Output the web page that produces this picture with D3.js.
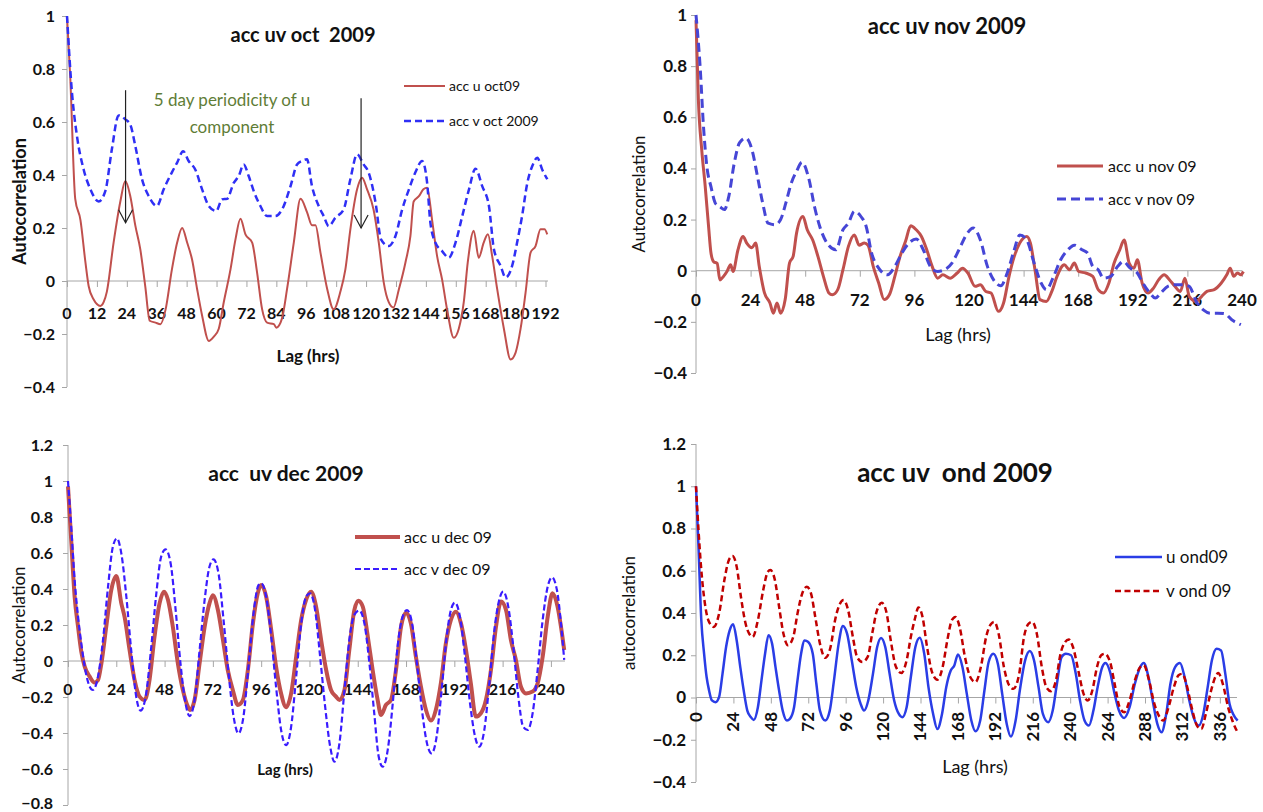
<!DOCTYPE html>
<html><head><meta charset="utf-8">
<script src="https://cdn.jsdelivr.net/npm/d3@7"></script>
<style>body{margin:0;background:#fff} text{font-family:Lato,"Open Sans",sans-serif}</style>
</head><body><svg id="c" width="1263" height="812"></svg>
<script>
// ---------- DATA ([lag hrs, autocorrelation]) ----------
const octU = [[0,1],[1.3,0.77],[3.3,0.31],[5.4,0.23],[7.4,0.07],[8.7,-0.02],[10.7,-0.07],[13.4,-0.094],[14.7,-0.08],[16,-0.04],[18.7,0.145],[21.4,0.30],[23.4,0.377],[25.4,0.32],[27.4,0.21],[29.4,0.12],[31.4,-0.02],[33.2,-0.15],[35.5,-0.157],[37.5,-0.163],[39.5,-0.11],[42.1,0.044],[44.2,0.145],[46.2,0.20],[48.2,0.145],[50.2,0.08],[52.2,-0.03],[54.2,-0.13],[56.9,-0.226],[58.9,-0.21],[60.9,-0.18],[62.9,-0.08],[65.6,0.044],[67.6,0.157],[69.6,0.235],[71.6,0.176],[74.3,0.145],[76.3,0.03],[78.3,-0.107],[80.3,-0.157],[83,-0.163],[84,-0.176],[86.3,-0.14],[88.3,-0.03],[91,0.145],[93.7,0.31],[96.3,0.26],[98.3,0.21],[99.7,0.21],[101.7,0.107],[104.4,-0.03],[107,-0.107],[109.7,-0.04],[111.7,0.044],[113.7,0.195],[116.4,0.346],[118.4,0.39],[120.4,0.346],[123,0.27],[125.1,0.145],[127.1,-0.006],[129.1,-0.08],[131,-0.1],[133.2,-0.03],[135.8,0.07],[137.8,0.17],[139.1,0.30],[141.2,0.32],[143,0.346],[144.5,0.352],[146.5,0.23],[148.5,0.094],[150.5,0.006],[152.5,-0.107],[155.2,-0.214],[157.2,-0.18],[159.2,-0.08],[160.8,0.07],[163.2,0.19],[165.2,0.088],[167.2,0.145],[168.9,0.176],[170.6,0.094],[172.6,-0.03],[175.3,-0.18],[178,-0.296],[180,-0.27],[182,-0.18],[184,-0.044],[186,0.107],[188,0.132],[190,0.195],[191.6,0.195],[192.7,0.176]];
const octV = [[0,1],[2,0.71],[4,0.547],[6.7,0.42],[9.4,0.346],[12.7,0.30],[15.4,0.34],[18,0.497],[20.7,0.625],[23.4,0.61],[25.4,0.59],[27.4,0.51],[30.1,0.384],[32.8,0.32],[36.1,0.283],[38.8,0.346],[42.1,0.41],[44.2,0.447],[46.6,0.49],[48.8,0.453],[51.5,0.42],[54.2,0.346],[56.9,0.283],[59.9,0.264],[62.2,0.308],[64.2,0.31],[66.9,0.37],[68.9,0.396],[70.9,0.44],[72.9,0.396],[74.9,0.34],[77.6,0.283],[80.3,0.245],[83.6,0.245],[86.3,0.27],[89.7,0.358],[92.3,0.44],[94.3,0.453],[96.3,0.459],[98.3,0.358],[101,0.283],[103,0.245],[105,0.207],[107.7,0.239],[111,0.27],[113.7,0.384],[116.4,0.478],[119,0.44],[121,0.41],[123.8,0.296],[126,0.157],[129,0.132],[131.8,0.17],[134.5,0.27],[137.2,0.346],[139.8,0.41],[142.5,0.453],[144.5,0.37],[145.8,0.22],[147.8,0.145],[150.5,0.113],[153.2,0.088],[155.9,0.145],[158.6,0.245],[161.3,0.346],[163.9,0.424],[166.6,0.358],[169.3,0.283],[171.3,0.12],[174,0.057],[176,0.013],[178.6,0.057],[180.6,0.145],[182.6,0.245],[184.7,0.37],[186.7,0.434],[188.7,0.465],[190.7,0.42],[192.7,0.384]];
const novU = [[0,0.98],[1.05,0.667],[2.55,0.47],[4.05,0.33],[5.55,0.17],[6.6,0.068],[7.8,0.035],[9.3,0.029],[10.5,-0.036],[12.1,-0.022],[13.6,-0.003],[15.2,0.023],[16.3,-0.003],[18.4,0.08],[20.7,0.134],[22.3,0.108],[24.6,0.09],[26.2,0.108],[27.8,0.017],[30.1,-0.087],[32.5,-0.126],[34,-0.166],[35.6,-0.126],[37.2,-0.166],[39.2,-0.113],[41.1,0.03],[42.7,0.056],[44.2,0.147],[47,0.212],[48.9,0.16],[51.3,0.12],[53.6,0.056],[56,-0.022],[58.4,-0.087],[59.9,-0.094],[62.3,-0.074],[64.6,0.004],[67,0.095],[69.6,0.14],[71.7,0.1],[74,0.108],[75.6,0.1],[77.9,0.017],[80.3,-0.048],[82.7,-0.113],[85,-0.094],[87.4,-0.022],[89.7,0.056],[92.1,0.115],[94.4,0.176],[96.8,0.16],[99.1,0.134],[101.5,0.08],[103.8,0.017],[106.2,-0.029],[108.5,-0.016],[111.7,-0.029],[114.8,-0.009],[117.2,0.01],[119.5,-0.009],[122.7,-0.061],[125,-0.055],[127.4,-0.081],[129.7,-0.087],[132.9,-0.159],[135.2,-0.126],[137.6,-0.022],[139.9,0.056],[142.3,0.108],[145.4,0.134],[147,0.108],[149,0.004],[151.2,-0.113],[154,-0.12],[156.4,-0.081],[158.7,-0.022],[161.9,0.023],[164.2,0.004],[166.3,0.03],[168.2,-0.003],[171.3,-0.009],[174.4,-0.022],[176.8,-0.074],[179.1,-0.087],[181.5,-0.048],[183.8,0.03],[186.2,0.08],[188.2,0.12],[190.4,0.03],[192.5,0.01],[194,0.043],[196.1,-0.048],[198.7,-0.087],[201.1,-0.068],[203.4,-0.035],[205.8,-0.016],[208.1,-0.035],[210.5,-0.061],[212.9,-0.081],[214.9,-0.029],[216.8,-0.1],[219.9,-0.12],[222.3,-0.1],[224.6,-0.081],[227.8,-0.074],[230.9,-0.048],[233.3,-0.016],[234.8,0.01],[236.4,-0.022],[238,-0.009],[239.5,-0.016],[240.6,-0.003]];
const novV = [[0,1],[1.8,0.8],[3.3,0.563],[4.8,0.406],[6.6,0.328],[8.55,0.263],[10.5,0.25],[12.5,0.239],[14.4,0.29],[16.8,0.42],[19.1,0.5],[21.9,0.519],[24.6,0.473],[27,0.37],[29.3,0.265],[31.7,0.186],[34.8,0.18],[37.2,0.2],[39.5,0.265],[41.9,0.343],[44.2,0.389],[46.6,0.424],[49.7,0.356],[52.1,0.25],[54.4,0.173],[57.6,0.108],[61.5,0.082],[64.6,0.16],[67,0.186],[69.6,0.232],[72.5,0.212],[74.8,0.173],[77.2,0.069],[80.3,0.01],[84.2,-0.016],[87.4,0.017],[90.5,0.069],[93.6,0.108],[96.8,0.124],[99.9,0.082],[103,0.017],[106.2,-0.003],[109.3,0.004],[112.5,0.03],[115.6,0.082],[118.8,0.14],[121.9,0.167],[125,0.12],[128.1,0.017],[131.3,-0.042],[134,-0.059],[136.8,-0.009],[139.9,0.082],[142.3,0.14],[145.4,0.12],[148.6,0.03],[151.7,-0.048],[154,-0.074],[157.2,-0.022],[160.3,0.043],[163.5,0.082],[166.3,0.1],[169.7,0.082],[172.1,0.069],[174.4,0.017],[176.8,0.004],[179.1,-0.029],[182.3,-0.022],[185.4,0.017],[187.8,0.036],[190.9,0.01],[194,-0.009],[196.4,-0.048],[199.5,-0.087],[201.9,-0.107],[204.3,-0.087],[207.4,-0.061],[210.5,-0.055],[213.6,-0.055],[216.8,-0.061],[219.9,-0.12],[223,-0.153],[226.1,-0.166],[229.3,-0.166],[232.4,-0.168],[235.5,-0.192],[239.5,-0.211]];
const decU = [[0,0.97],[1.7,0.65],[3.3,0.357],[5,0.19],[6.6,0.052],[8.3,-0.031],[10.8,-0.087],[13.2,-0.12],[14.9,-0.106],[16.6,-0.013],[19,0.19],[21.5,0.394],[24,0.472],[26.5,0.32],[28.1,0.246],[30.6,0.061],[33.1,-0.106],[35.6,-0.198],[38.1,-0.217],[40.5,-0.106],[43,0.135],[45.5,0.32],[47.7,0.385],[49.7,0.339],[52.1,0.19],[54.6,-0.013],[57.1,-0.161],[59.6,-0.254],[60.7,-0.272],[62.9,-0.217],[65.4,-0.013],[67.9,0.19],[70.3,0.32],[72,0.365],[74.5,0.283],[77,0.117],[79.4,-0.05],[81.9,-0.161],[84.4,-0.244],[86.9,-0.217],[89.4,-0.05],[91.9,0.209],[94.3,0.376],[96,0.422],[98.5,0.357],[101,0.172],[103.4,-0.031],[105.9,-0.18],[108.4,-0.257],[110.9,-0.18],[113.4,0.024],[115.9,0.228],[118.3,0.339],[120.8,0.385],[123.3,0.302],[125.8,0.117],[128.3,-0.05],[130.7,-0.161],[133.2,-0.198],[134.9,-0.217],[137.4,-0.161],[139.8,0.061],[142.3,0.283],[144.3,0.335],[146.5,0.302],[149,0.135],[151.4,-0.05],[153.9,-0.217],[155.6,-0.3],[158,-0.244],[160.5,-0.217],[163,-0.05],[165.5,0.19],[168,0.268],[170.4,0.209],[172.9,0.024],[175.4,-0.143],[177.9,-0.272],[180.4,-0.331],[182.8,-0.272],[185.3,-0.124],[187.8,0.098],[190.3,0.228],[192.8,0.274],[195.3,0.209],[197.8,0.061],[200.2,-0.124],[202.7,-0.309],[205.2,-0.29],[207.7,-0.217],[210.2,-0.05],[212.7,0.19],[215.2,0.33],[217.7,0.283],[220.1,0.117],[222.6,0.006],[225.1,-0.143],[227.6,-0.18],[230.9,-0.17],[233.4,-0.124],[235.9,0.024],[238.4,0.246],[240.8,0.376],[243.3,0.302],[245,0.19],[246.6,0.061]];
const decV = [[0,1],[1.7,0.728],[3.3,0.45],[5,0.246],[6.6,0.098],[8.3,-0.031],[10.8,-0.143],[12.4,-0.161],[14.9,-0.087],[17.4,0.117],[19.9,0.413],[22.3,0.635],[24.3,0.681],[26.5,0.598],[29,0.357],[31.4,0.061],[33.9,-0.198],[36.1,-0.276],[38.6,-0.198],[41.4,0.08],[43.9,0.376],[46.3,0.58],[48.5,0.62],[51,0.543],[53.5,0.283],[55.9,-0.013],[58.4,-0.235],[60.4,-0.306],[62.9,-0.217],[65.4,0.061],[67.9,0.339],[70.3,0.524],[72.3,0.565],[74.8,0.487],[77.3,0.228],[79.8,-0.069],[82.3,-0.309],[84.7,-0.402],[87.2,-0.309],[89.7,-0.031],[92.2,0.265],[94.7,0.422],[96,0.431],[98.5,0.357],[101,0.135],[103.4,-0.143],[105.9,-0.383],[108.4,-0.467],[110.9,-0.365],[113.4,-0.087],[115.9,0.209],[118.3,0.357],[120.3,0.376],[122.8,0.283],[125.3,0.024],[127.8,-0.254],[130.3,-0.476],[132.4,-0.559],[134.9,-0.457],[137.4,-0.161],[139.8,0.117],[142.3,0.256],[144.8,0.28],[147.3,0.209],[149.8,-0.013],[152.2,-0.291],[154.4,-0.531],[156.4,-0.587],[158.9,-0.494],[161.4,-0.235],[163.8,0.08],[166.3,0.246],[168.5,0.283],[171,0.209],[173.4,-0.013],[175.9,-0.272],[178.4,-0.457],[180.7,-0.513],[183.2,-0.42],[185.7,-0.161],[188.2,0.135],[190.3,0.283],[192.3,0.324],[194.8,0.246],[197.3,0.024],[199.8,-0.235],[202.3,-0.42],[204.4,-0.476],[206.9,-0.383],[209.4,-0.124],[211.9,0.172],[214.3,0.339],[216.3,0.385],[218.8,0.302],[221.3,0.08],[223.8,-0.198],[226.2,-0.365],[228.4,-0.383],[230.9,-0.291],[233.4,-0.05],[235.9,0.228],[238.4,0.413],[240.5,0.465],[243,0.394],[245,0.209],[246.6,0.006]];
const ondU = [[0,1],[1.6,0.714],[3.4,0.366],[5.2,0.207],[6.8,0.097],[8.4,0.033],[10.2,-0.014],[12.5,-0.022],[14.8,0.002],[17,0.112],[19.3,0.239],[21.6,0.318],[23.8,0.347],[26.1,0.27],[28.4,0.144],[30.6,0.033],[32.9,-0.062],[35.2,-0.093],[37,-0.106],[39.7,-0.046],[42,0.081],[44.3,0.207],[46.5,0.295],[48.8,0.255],[51,0.144],[53.3,0.033],[55.6,-0.062],[58.3,-0.109],[60.2,-0.101],[62.9,-0.046],[65.1,0.081],[67.4,0.207],[69.7,0.27],[72,0.263],[74.9,0.207],[77.2,0.065],[79.5,-0.062],[82.9,-0.109],[85.8,-0.062],[88.5,0.081],[91.5,0.255],[94.2,0.339],[96.9,0.302],[99.9,0.176],[102.8,0.049],[105.6,-0.03],[107.8,-0.062],[110.5,-0.014],[113.5,0.112],[116.2,0.239],[118.7,0.282],[121.4,0.239],[124.2,0.112],[127.1,-0.014],[130.1,-0.078],[132.3,-0.093],[135.1,-0.046],[137.8,0.097],[140.7,0.239],[143.5,0.283],[146.4,0.207],[149.1,0.049],[152.1,-0.078],[154.8,-0.149],[157.8,-0.078],[160.5,0.049],[163.4,0.128],[165.7,0.152],[168,0.204],[170.9,0.144],[173.7,0.017],[176.6,-0.109],[179.3,-0.16],[182.3,-0.109],[185,0.033],[187.7,0.168],[190.7,0.207],[193.6,0.16],[196.4,0.017],[199.3,-0.125],[202,-0.185],[205,-0.109],[207.7,0.033],[211.1,0.176],[214.1,0.22],[216.8,0.176],[219.7,0.049],[222.5,-0.078],[225.9,-0.117],[228.8,-0.062],[231.5,0.065],[234.5,0.192],[237.2,0.207],[240.6,0.2],[243.6,0.112],[246.3,-0.014],[249.2,-0.109],[252,-0.133],[254.9,-0.062],[257.6,0.049],[260.6,0.144],[262.6,0.163],[265.6,0.12],[268.5,0.017],[271.3,-0.062],[274.7,-0.097],[278.1,-0.046],[281.5,0.065],[284.9,0.144],[287.2,0.163],[290.2,0.097],[292.9,-0.014],[295.9,-0.125],[298.6,-0.165],[301.6,-0.078],[304.3,0.065],[307.3,0.144],[310.4,0.163],[313.4,0.097],[316.4,-0.014],[319.1,-0.093],[322.5,-0.133],[325.4,-0.078],[328.2,0.049],[330.9,0.176],[333.9,0.231],[336.8,0.223],[339.5,0.112],[342.2,-0.03],[344.5,-0.078],[347.4,-0.109]];
const ondV = [[0,1],[1.6,0.793],[3.4,0.603],[5.7,0.445],[7.9,0.366],[11.4,0.334],[14.8,0.397],[18.2,0.556],[21.1,0.651],[23.4,0.67],[26.1,0.619],[28.8,0.477],[31.8,0.35],[34.1,0.302],[36.3,0.287],[39.7,0.366],[43.1,0.508],[46.1,0.595],[47.7,0.603],[50.6,0.556],[53.3,0.429],[56.1,0.302],[59,0.247],[62.4,0.287],[65.1,0.397],[68.1,0.492],[71.1,0.524],[73.8,0.492],[76.5,0.381],[79.5,0.255],[82.9,0.188],[86.3,0.239],[89.2,0.366],[91.9,0.437],[94.7,0.461],[97.6,0.413],[100.6,0.287],[103.3,0.192],[106.7,0.168],[110.1,0.192],[113,0.302],[115.8,0.405],[119.2,0.448],[122.1,0.405],[124.9,0.271],[128.3,0.144],[131.7,0.116],[135.1,0.176],[137.8,0.287],[140.7,0.381],[142.6,0.426],[145.3,0.381],[148.2,0.239],[151.4,0.12],[154.8,0.084],[158.2,0.144],[161.2,0.271],[164.1,0.366],[166.4,0.381],[169.1,0.334],[172.5,0.192],[175.9,0.097],[179.3,0.073],[182.7,0.144],[186.1,0.287],[189.1,0.347],[191.4,0.358],[194.1,0.302],[197.5,0.144],[200.9,0.057],[203.6,0.041],[207.3,0.112],[210.4,0.287],[213.4,0.35],[215.7,0.358],[218.6,0.302],[221.8,0.144],[224.7,0.049],[227.7,0.03],[230.9,0.081],[233.8,0.207],[236.8,0.263],[239.1,0.274],[241.8,0.239],[245.2,0.128],[248.6,0.017],[251.3,-0.014],[254.2,0.033],[257.2,0.144],[259.9,0.2],[262.2,0.207],[265.6,0.168],[268.5,0.065],[271.7,-0.046],[274.7,-0.07],[278.1,-0.014],[281.5,0.081],[284.9,0.144],[287.2,0.152],[290.6,0.081],[294,-0.03],[297.4,-0.093],[299.7,-0.109],[303.1,-0.046],[306.5,0.049],[309.5,0.105],[311.8,0.112],[314.5,0.065],[317.9,-0.046],[321.3,-0.133],[324.1,-0.149],[327,-0.078],[330.4,0.033],[333.1,0.097],[334.9,0.116],[337.9,0.065],[341.3,-0.046],[344,-0.109],[347.4,-0.165]];

const octXTicks = [0,12,24,36,48,60,72,84,96,108,120,132,144,156,168,180,192];
const nov24Ticks = [0,24,48,72,96,120,144,168,192,216,240];
const decXTicks = [0,24,48,72,96,120,144,168,192,216,240];
const ondXTicks = [0,24,48,72,96,120,144,168,192,216,240,264,288,312,336];
const yTicksA = [-0.4,-0.2,0,0.2,0.4,0.6,0.8,1];
const yTicksDec = [-0.8,-0.6,-0.4,-0.2,0,0.2,0.4,0.6,0.8,1,1.2];
const yTicksOnd = [-0.4,-0.2,0,0.2,0.4,0.6,0.8,1,1.2];

// ---------- DRAW ----------
const svg = d3.select("#c");
const AX = "#a6a6a6";

const panels = [
 {title:"acc uv oct  2009", tx:303, ty:35, tsize:20,
  xd:[0,193], xr:[67,548], yd:[-0.4,1], yr:[387,16], xt:octXTicks, yt:yTicksA,
  xlabY:313, xlabSize:16, rotX:false, ylabRight:55, ylabSize:16,
  yTitle:"Autocorrelation", yTitleX:20, yTitleBold:true, yTitleSize:18,
  lag:{x:308,y:356,size:17,bold:true},
  leg:{x1:404,x2:445,tx:449,ys:[86,121],size:14},
  series:[{d:octU,name:"acc u oct09",c:"#c0504d",w:2,dash:null},
          {d:octV,name:"acc v oct 2009",c:"#2f2ff5",w:2.5,dash:"7,4"}]},
 {title:"acc uv nov 2009", tx:947, ty:26, tsize:22,
  xd:[0,240], xr:[696,1242], yd:[-0.4,1], yr:[373,15], xt:nov24Ticks, yt:yTicksA,
  xlabY:300, xlabSize:17, rotX:false, ylabRight:687, ylabSize:17,
  yTitle:"Autocorrelation", yTitleX:639, yTitleBold:false, yTitleSize:17,
  lag:{x:958,y:335,size:18,bold:false},
  leg:{x1:1057,x2:1103,tx:1108,ys:[166,199],size:16},
  series:[{d:novU,name:"acc u nov 09",c:"#c0504d",w:3,dash:null},
          {d:novV,name:"acc v nov 09",c:"#4646d6",w:3,dash:"9,5"}]},
 {title:"acc  uv dec 2009", tx:286, ty:474, tsize:21,
  xd:[0,247], xr:[68,565], yd:[-0.8,1.2], yr:[805,445], xt:decXTicks, yt:yTicksDec,
  xlabY:689, xlabSize:16, rotX:false, ylabRight:53, ylabSize:16,
  yTitle:"Autocorrelation", yTitleX:19, yTitleBold:false, yTitleSize:17,
  lag:{x:285,y:770,size:15,bold:true},
  leg:{x1:355,x2:400,tx:404,ys:[537,569],size:16},
  series:[{d:decU,name:"acc u dec 09",c:"#c0504d",w:4,dash:null},
          {d:decV,name:"acc v dec 09",c:"#3a1cff",w:2.2,dash:"6,3"}]},
 {title:"acc uv  ond 2009", tx:955, ty:473, tsize:26,
  xd:[0,347], xr:[696,1237], yd:[-0.4,1.2], yr:[782,444], xt:ondXTicks, yt:yTicksOnd,
  xlabY:712, xlabSize:17, rotX:true, ylabRight:686, ylabSize:17,
  yTitle:"autocorrelation", yTitleX:629, yTitleBold:false, yTitleSize:17,
  lag:{x:975,y:767,size:18,bold:false},
  leg:{x1:1115,x2:1162,tx:1166,ys:[557,591],size:17},
  series:[{d:ondU,name:"u ond09",c:"#2a3de6",w:2.5,dash:null},
          {d:ondV,name:"v ond 09",c:"#c00000",w:2.5,dash:"6,3.5"}]}
];

panels.forEach(p => {
  const g = svg.append("g");
  const x = d3.scaleLinear().domain(p.xd).range(p.xr);
  const y = d3.scaleLinear().domain(p.yd).range(p.yr);
  const y0 = y(0);

  // y axis
  const ya = d3.axisLeft(y).tickValues(p.yt).tickSize(5).tickFormat("");
  const yg = g.append("g").attr("transform",`translate(${p.xr[0]},0)`).call(ya);
  yg.select(".domain").attr("stroke",AX).attr("d",`M0,${p.yr[0]}V${p.yr[1]}`);
  yg.selectAll(".tick line").attr("stroke",AX);
  g.selectAll(".ytl").data(p.yt).enter().append("text")
    .attr("x",p.ylabRight).attr("y",d=>Math.min(y(d), 812 - p.ylabSize*0.5 - 1)).attr("dy","0.35em")
    .attr("text-anchor","end").attr("font-weight","bold").attr("font-size",p.ylabSize)
    .attr("fill","#111").text(d=>d3.format("")(+d.toFixed(1)));

  // x axis along zero
  const xa = d3.axisBottom(x).tickValues(p.xt).tickSize(6).tickFormat("");
  const xg = g.append("g").attr("transform",`translate(0,${y0})`).call(xa);
  xg.select(".domain").attr("stroke",AX).attr("d",`M${p.xr[0]},0H${p.xr[1]}`);
  xg.selectAll(".tick line").attr("stroke",AX);
  const xl = g.selectAll(".xtl").data(p.xt).enter().append("text")
    .attr("font-weight","bold").attr("font-size",p.xlabSize).attr("fill","#111").text(d=>d);
  if (p.rotX) {
    xl.attr("transform",d=>`translate(${x(d)},${p.xlabY}) rotate(-90)`)
      .attr("text-anchor","end").attr("dy","0.35em");
  } else {
    xl.attr("x",d=>x(d)).attr("y",p.xlabY).attr("dy","0.35em").attr("text-anchor","middle");
  }

  // titles
  g.append("text").attr("x",p.tx).attr("y",p.ty).attr("dy","0.35em").attr("text-anchor","middle")
    .attr("font-weight","bold").attr("font-size",p.tsize).attr("fill","#111")
    .style("white-space","pre").text(p.title);
  g.append("text").attr("transform",`translate(${p.yTitleX},${(p.yr[0]+p.yr[1])/2}) rotate(-90)`)
    .attr("text-anchor","middle").attr("dy","0.35em")
    .attr("font-weight",p.yTitleBold?"bold":"normal").attr("font-size",p.yTitleSize).attr("fill","#111")
    .text(p.yTitle);
  g.append("text").attr("x",p.lag.x).attr("y",p.lag.y).attr("dy","0.35em").attr("text-anchor","middle")
    .attr("font-weight",p.lag.bold?"bold":"normal").attr("font-size",p.lag.size).attr("fill","#111")
    .text("Lag (hrs)");

  // series
  const line = d3.line().x(d=>x(d[0])).y(d=>y(d[1])).curve(d3.curveMonotoneX);
  p.series.forEach((s,i) => {
    g.append("path").datum(s.d).attr("d",line).attr("fill","none")
      .attr("stroke",s.c).attr("stroke-width",s.w).attr("stroke-linejoin","round")
      .attr("stroke-dasharray",s.dash);
    const ly = p.leg.ys[i];
    g.append("line").attr("x1",p.leg.x1).attr("x2",p.leg.x2).attr("y1",ly).attr("y2",ly)
      .attr("stroke",s.c).attr("stroke-width",s.w).attr("stroke-dasharray",s.dash);
    g.append("text").attr("x",p.leg.tx).attr("y",ly).attr("dy","0.35em")
      .attr("font-size",p.leg.size).attr("fill","#111").text(s.name);
  });

  p.xs = x; p.ys = y; p.g = g;
});

// annotation on the October panel
const P = panels[0];
P.g.append("text").attr("x",232).attr("y",100).attr("dy","0.35em").attr("text-anchor","middle")
  .attr("font-size",17).attr("fill","#5f7d37").text("5 day periodicity of u");
P.g.append("text").attr("x",232).attr("y",127).attr("dy","0.35em").attr("text-anchor","middle")
  .attr("font-size",17).attr("fill","#5f7d37").text("component");
const arrows = [[23.5,0.72,0.22],[118,0.69,0.20]];
arrows.forEach(a => {
  const ax = P.xs(a[0]), yt = P.ys(a[1]), yb = P.ys(a[2]);
  P.g.append("line").attr("x1",ax).attr("x2",ax).attr("y1",yt).attr("y2",yb).attr("stroke","#222").attr("stroke-width",1.2);
  P.g.append("path").attr("d",`M${ax-7},${yb-13}L${ax},${yb}L${ax+7},${yb-13}`)
    .attr("fill","none").attr("stroke","#222").attr("stroke-width",1.2);
});
</script></body></html>
